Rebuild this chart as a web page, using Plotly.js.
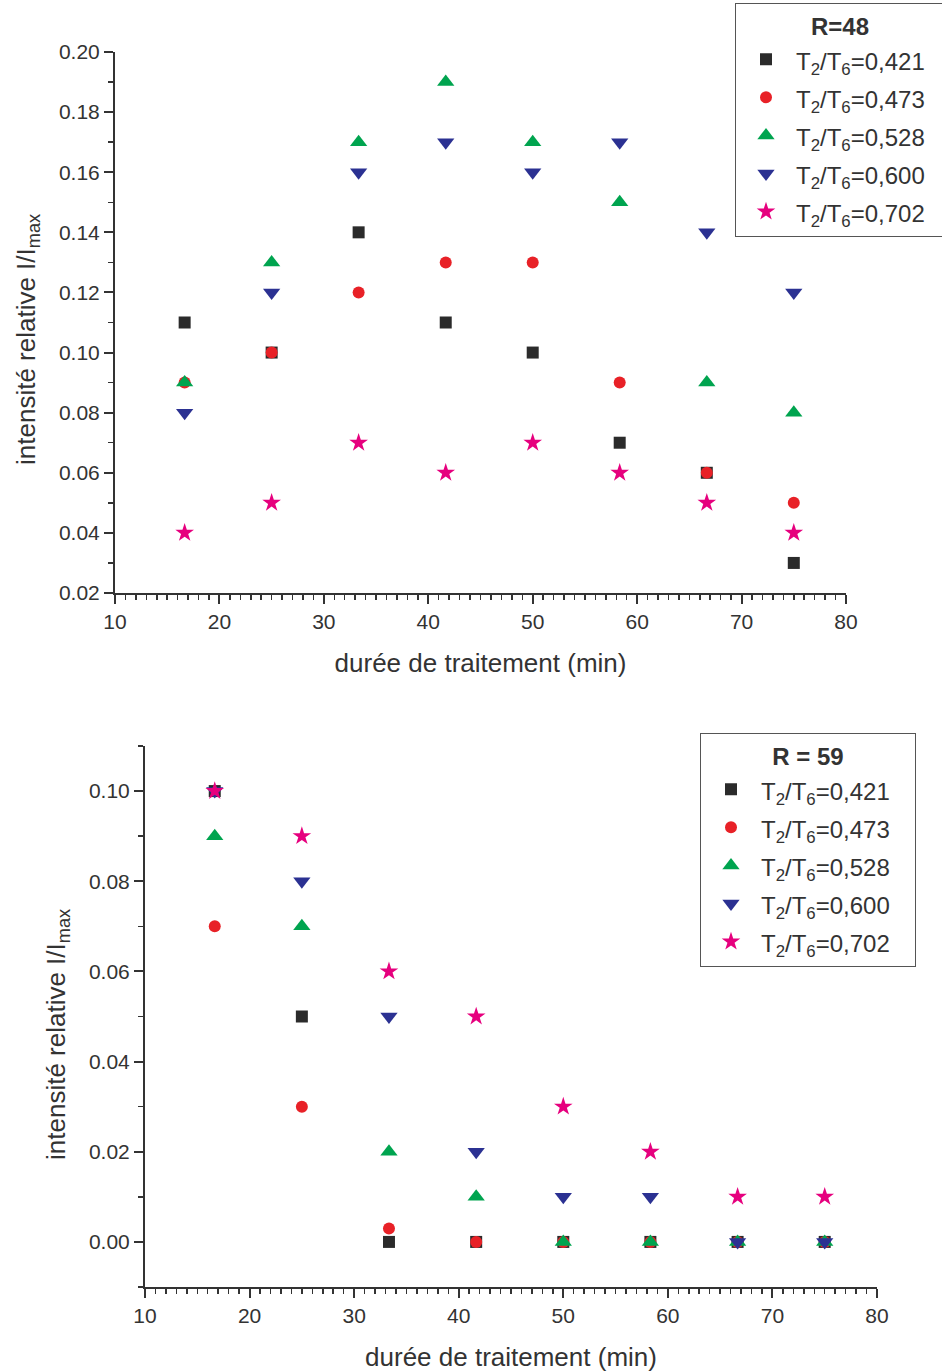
<!DOCTYPE html>
<html>
<head>
<meta charset="utf-8">
<script src="https://cdn.plot.ly/plotly-3.0.1.min.js"></script>
<style>html,body{margin:0;padding:0;background:#fff;}#chart{width:942px;height:1372px;}</style>
</head>
<body>
<div id="chart"></div>
<script>
// ---- data ----
const times = [16.67, 25, 33.33, 41.67, 50, 58.33, 66.67, 75];
const ratioLabels = ['0,421', '0,473', '0,528', '0,600', '0,702'];

// R = 48
const r48_0421 = [0.11, 0.10, 0.14, 0.11, 0.10, 0.07, 0.06, 0.03];
const r48_0473 = [0.09, 0.10, 0.12, 0.13, 0.13, 0.09, 0.06, 0.05];
const r48_0528 = [0.09, 0.13, 0.17, 0.19, 0.17, 0.15, 0.09, 0.08];
const r48_0600 = [0.08, 0.12, 0.16, 0.17, 0.16, 0.17, 0.14, 0.12];
const r48_0702 = [0.04, 0.05, 0.07, 0.06, 0.07, 0.06, 0.05, 0.04];

// R = 59
const r59_0421 = [0.10, 0.05, 0.00, 0.00, 0.00, 0.00, 0.00, 0.00];
const r59_0473 = [0.07, 0.03, 0.003, 0.00, 0.00, 0.00, 0.00, 0.00];
const r59_0528 = [0.09, 0.07, 0.02, 0.01, 0.00, 0.00, 0.00, 0.00];
const r59_0600 = [0.10, 0.08, 0.05, 0.02, 0.01, 0.01, 0.00, 0.00];
const r59_0702 = [0.10, 0.09, 0.06, 0.05, 0.03, 0.02, 0.01, 0.01];

const xTitle = 'durée de traitement (min)';
const yTitle = 'intensité relative I/I<sub>max</sub>';
const legendTitles = ['<b>R=48</b>', '<b>R = 59</b>'];

// ---- styling ----
const colors = ['#2b2b2b', '#e82127', '#00a44f', '#2b3192', '#e6007e'];
const symbols = ['square', 'circle', 'triangle-up', 'triangle-down', 'star'];
const sizes = [12, 12, 15, 15, 14];

const r48 = [r48_0421, r48_0473, r48_0528, r48_0600, r48_0702];
const r59 = [r59_0421, r59_0473, r59_0528, r59_0600, r59_0702];

function legendName(lbl, extra) {
  return '<span style="font-size:24px">T<sub>2</sub>/T<sub>6</sub>=' + lbl + '\u00a0'.repeat(extra) + '</span>';
}

const traces = [];
r48.forEach((ys, i) => {
  traces.push({
    type: 'scatter', mode: 'markers', x: times, y: ys,
    name: legendName(ratioLabels[i], 2),
    marker: {color: colors[i], symbol: symbols[i], size: sizes[i], line: {width: 0}},
    xaxis: 'x', yaxis: 'y', legend: 'legend'
  });
});
r59.forEach((ys, i) => {
  traces.push({
    type: 'scatter', mode: 'markers', x: times, y: ys,
    name: legendName(ratioLabels[i], 3),
    marker: {color: colors[i], symbol: symbols[i], size: sizes[i], line: {width: 0}},
    xaxis: 'x2', yaxis: 'y2', legend: 'legend2'
  });
});

const axisColor = '#333333';
const narrow = 'Liberation Sans Narrow, Arial Narrow, Liberation Sans, sans-serif';
const regular = 'Liberation Sans, Arial, sans-serif';

function xAxis(domain, anchor) {
  return {
    domain: domain, anchor: anchor, range: [10, 80], tick0: 10, dtick: 10,
    showline: true, linecolor: axisColor, linewidth: 2, mirror: false,
    ticks: 'outside', ticklen: 9, tickwidth: 2, tickcolor: axisColor,
    minor: {dtick: 1, ticks: 'outside', ticklen: 5, tickwidth: 1.5, tickcolor: axisColor, showgrid: false},
    showgrid: false, zeroline: false,
    tickfont: {family: narrow, size: 21, color: '#333'},
    title: {text: xTitle, font: {family: narrow, size: 26, color: '#333'}, standoff: 22}
  };
}
function yAxis(domain, anchor, range) {
  return {
    domain: domain, anchor: anchor, range: range, tick0: 0, dtick: 0.02, tickformat: '.2f',
    showline: true, linecolor: axisColor, linewidth: 2, mirror: false,
    ticks: 'outside', ticklen: 9, tickwidth: 2, tickcolor: axisColor,
    minor: {dtick: 0.01, tick0: 0, ticks: 'outside', ticklen: 5, tickwidth: 1.5, tickcolor: axisColor, showgrid: false},
    showgrid: false, zeroline: false,
    tickfont: {family: narrow, size: 21, color: '#333'}
  };
}

function legendCfg(x, y, title) {
  return {
    x: x, y: y, xanchor: 'left', yanchor: 'top',
    bgcolor: '#ffffff', bordercolor: '#555555', borderwidth: 1,
    font: {family: regular, size: 27, color: '#333'},
    title: {text: title, side: 'top center', font: {family: regular, size: 24, color: '#333'}},
    itemsizing: 'trace', itemwidth: 50, tracegroupgap: 0
  };
}

function yTitleAnn(xpx, ypx) {
  return {
    xref: 'paper', yref: 'paper', x: xpx/942, y: 1 - ypx/1372,
    xanchor: 'center', yanchor: 'middle', textangle: -90, showarrow: false,
    text: yTitle, font: {family: regular, size: 26, color: '#333'}
  };
}

const layout = {
  width: 942, height: 1372,
  margin: {l: 0, r: 0, t: 0, b: 0, autoexpand: false},
  paper_bgcolor: '#ffffff', plot_bgcolor: '#ffffff',
  showlegend: true,
  xaxis: xAxis([115/942, 846/942], 'y'),
  yaxis: yAxis([1 - 593/1372, 1 - 52/1372], 'x', [0.02, 0.20]),
  xaxis2: xAxis([145/942, 877/942], 'y2'),
  yaxis2: yAxis([1 - 1287/1372, 1 - 746/1372], 'x2', [-0.01, 0.11]),
  legend: legendCfg(735/942, 1 - 3/1372, legendTitles[0]),
  legend2: legendCfg(700/942, 1 - 733/1372, legendTitles[1]),
  annotations: [yTitleAnn(27, 340), yTitleAnn(57, 1035)]
};

Plotly.newPlot('chart', traces, layout, {displayModeBar: false, staticPlot: true});
</script>
</body>
</html>
